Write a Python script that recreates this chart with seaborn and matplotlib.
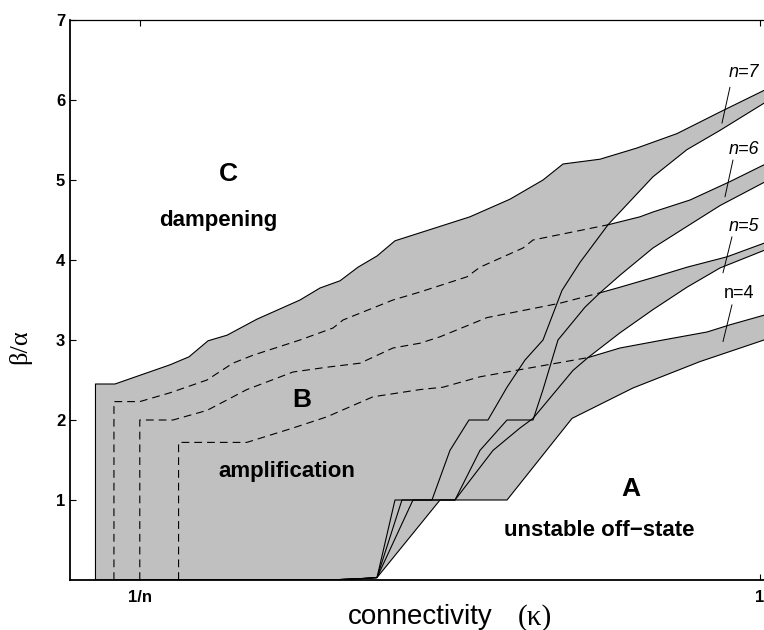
import matplotlib
matplotlib.use("Agg")
import matplotlib.pyplot as plt
import seaborn as sns
import numpy as np

# ---------------- data ----------------
n_values = [7, 6, 5, 4]
left_edge = {7: 1 / 7, 6: 1 / 6, 5: 1 / 5, 4: 1 / 4}

# upper boundary (B/C border) for each n
upper_x = {
    7: [1/7, 0.168, 0.239, 0.2635, 0.288, 0.3125, 0.351, 0.4066, 0.4324, 0.4582,
        0.4814, 0.5059, 0.5291, 0.5614, 0.6258, 0.6774, 0.72, 0.7458, 0.7935,
        0.8412, 0.8928, 0.9482, 1.005],
    6: [1/6, 0.2, 0.239, 0.2867, 0.320, 0.346, 0.4066, 0.4492, 0.4621, 0.5265,
        0.5614, 0.622, 0.6387, 0.6942, 0.7071, 0.8038, 0.8451, 0.8618, 0.9096,
        0.9611, 1.005],
    5: [0.2, 0.2428, 0.2867, 0.338, 0.3976, 0.4414, 0.484, 0.5265, 0.5614, 0.5872,
        0.6478, 0.7419, 0.7935, 0.8193, 0.8618, 0.9057, 0.9573, 1.005],
    4: [0.25, 0.338, 0.3976, 0.4414, 0.5007, 0.5614, 0.591, 0.6387, 0.778, 0.8193,
        0.8747, 0.9315, 0.9611, 1.005],
}
upper_y = {
    7: [2.45, 2.45, 2.69, 2.79, 2.99, 3.06, 3.26, 3.5, 3.65, 3.74, 3.91, 4.05,
        4.24, 4.34, 4.54, 4.76, 5.0, 5.2, 5.26, 5.4, 5.58, 5.85, 6.12],
    6: [2.23, 2.23, 2.34, 2.5, 2.71, 2.81, 3.0, 3.15, 3.25, 3.5, 3.6, 3.79, 3.91,
        4.15, 4.25, 4.44, 4.54, 4.6, 4.75, 4.98, 5.19],
    5: [2.0, 2.0, 2.12, 2.38, 2.6, 2.66, 2.71, 2.9, 2.96, 3.04, 3.28, 3.46, 3.59,
        3.66, 3.78, 3.91, 4.04, 4.21],
    4: [1.72, 1.72, 1.9, 2.04, 2.29, 2.38, 2.41, 2.54, 2.78, 2.9, 3.0, 3.1, 3.19,
        3.31],
}
# x where each upper boundary leaves the shaded union (dashed before, solid after)
crossing_x = {7: 0.0, 6: 0.8038, 5: 0.7935, 4: 0.778}

# lower boundary (A/B border) for each n
lower_x = {
    7: [1/7, 0.4453, 0.4904, 0.5059, 0.5291, 0.5768, 0.6, 0.6245, 0.649, 0.6736,
        0.6968, 0.72, 0.7445, 0.7677, 0.8038, 0.8618, 0.9057, 0.9482, 1.005],
    6: [1/6, 0.4453, 0.4904, 0.5059, 0.5381, 0.6065, 0.6387, 0.6736, 0.7071, 0.72,
        0.7393, 0.7741, 0.7935, 0.8193, 0.8618, 0.9057, 0.9482, 1.005],
    5: [0.2, 0.4453, 0.4904, 0.5059, 0.5523, 0.6065, 0.6555, 0.6903, 0.7071,
        0.7587, 0.778, 0.8193, 0.8618, 0.9057, 0.9482, 1.005],
    4: [0.25, 0.4453, 0.4904, 0.5059, 0.5872, 0.6736, 0.7574, 0.836, 0.9224, 1.005],
}
lower_y = {
    7: [0, 0, 0.02, 0.03, 1.0, 1.0, 1.62, 2.0, 2.0, 2.41, 2.75, 3.0, 3.62, 3.97,
        4.44, 5.04, 5.38, 5.62, 5.96],
    6: [0, 0, 0.02, 0.03, 1.0, 1.0, 1.62, 2.0, 2.0, 2.38, 3.0, 3.41, 3.59, 3.81,
        4.15, 4.42, 4.68, 4.97],
    5: [0, 0, 0.02, 0.03, 1.0, 1.0, 1.62, 1.9, 2.02, 2.62, 2.78, 3.09, 3.38, 3.66,
        3.9, 4.12],
    4: [0, 0, 0.02, 0.03, 1.0, 1.0, 2.02, 2.4, 2.73, 3.0],
}

y_ticks = [1, 2, 3, 4, 5, 6, 7]
x_ticks = [1 / 5, 1.0]
x_tick_labels = ["1/n", "1"]

# ---------------- figure ----------------
sns.set_theme(style="ticks")
plt.rcParams["font.family"] = ["Liberation Sans", "DejaVu Sans"]
plt.rcParams["text.color"] = "black"
plt.rcParams["axes.labelcolor"] = "black"
plt.rcParams["xtick.color"] = "black"
plt.rcParams["ytick.color"] = "black"

fig = plt.figure(figsize=(7.64, 6.30), dpi=100)
ax = fig.add_axes([70 / 764, 50 / 630, 694 / 764, 560 / 630])
ax.set_facecolor("white")

GRAY = "#c0c0c0"
LW = 0.8

# shaded regions (union of amplification regions)
for n in n_values:
    ux, uy = np.array(upper_x[n]), np.array(upper_y[n])
    lx, ly = np.array(lower_x[n]), np.array(lower_y[n])
    ax.fill(np.r_[ux, lx[::-1]], np.r_[uy, ly[::-1]], color=GRAY, lw=0, zorder=1)

# boundaries
for n in n_values:
    ux = np.r_[left_edge[n], np.array(upper_x[n])]
    uy = np.r_[0.0, np.array(upper_y[n])]
    cx = crossing_x[n]
    inside = ux <= cx + 1e-9
    outside = ux >= cx - 1e-9
    if inside.sum() > 1:
        sns.lineplot(x=ux[inside], y=uy[inside], ax=ax, color="black", lw=LW,
                     estimator=None, sort=False, dashes=False, zorder=3,
                     linestyle=(0, (7, 4.5)))
    sns.lineplot(x=ux[outside], y=uy[outside], ax=ax, color="black", lw=LW,
                 estimator=None, sort=False, zorder=3)
    sns.lineplot(x=lower_x[n], y=lower_y[n], ax=ax, color="black", lw=LW,
                 estimator=None, sort=False, zorder=3)

# band labels with small pointer strokes
band_labels = [
    ("n=7", "italic", 0.9792, 6.34, (0.9611, 0.9508), (6.16, 5.71)),
    ("n=6", "italic", 0.9792, 5.38, (0.9650, 0.9547), (5.25, 4.79)),
    ("n=5", "italic", 0.9792, 4.42, (0.9637, 0.9521), (4.29, 3.84)),
    ("n=4", "normal", 0.9727, 3.58, (0.9637, 0.9521), (3.44, 2.98)),
]
for txt, style, tx, ty, sx, sy in band_labels:
    ax.text(tx, ty, txt, fontsize=13, fontstyle=style, ha="center", va="center",
            zorder=4)
    ax.plot(sx, sy, color="black", lw=0.7, zorder=4)

region_texts = [
    ("C", 0.3138, 5.08, 19),
    ("dampening", 0.3009, 4.50, 16),
    ("B", 0.4092, 2.25, 19),
    ("amplification", 0.3898, 1.36, 16),
    ("A", 0.8335, 1.14, 19),
    ("unstable off\u2212state", 0.7922, 0.625, 16),
]
for txt, tx, ty, fs in region_texts:
    ax.text(tx, ty, txt, fontsize=fs, fontweight="bold", ha="center",
            va="center", zorder=4)

# axes styling
ax.set_xlim(0.11, 1.005)
ax.set_ylim(0, 7)
ax.set_yticks(y_ticks)
ax.set_xticks(x_ticks)
ax.set_xticklabels(x_tick_labels)
ax.grid(False)
ax.tick_params(axis="both", direction="in", length=4, width=0.8, colors="black",
               labelsize=12, top=True, right=False)
for lab in ax.get_xticklabels() + ax.get_yticklabels():
    lab.set_fontweight("bold")
ax.tick_params(axis="y", pad=3.5)
ax.tick_params(axis="x", pad=7)
for side in ["left", "bottom"]:
    ax.spines[side].set_linewidth(1.3)
    ax.spines[side].set_color("black")
ax.spines["top"].set_linewidth(0.9)
ax.spines["top"].set_color("black")
ax.spines["right"].set_visible(False)

ax.set_xlabel("")
ax.set_ylabel("\u03b2/\u03b1", fontsize=19, family=["Liberation Serif", "DejaVu Serif"])
ax.yaxis.set_label_coords(-0.056, 0.416)

ax.text(0.504, -0.079, "connectivity", transform=ax.transAxes, fontsize=20,
        ha="center", va="baseline")
ax.text(0.670, -0.079, "(\u03ba)", transform=ax.transAxes, fontsize=21,
        ha="center", va="baseline", family=["Liberation Serif", "DejaVu Serif"])

fig.savefig("out.png", dpi=100)
